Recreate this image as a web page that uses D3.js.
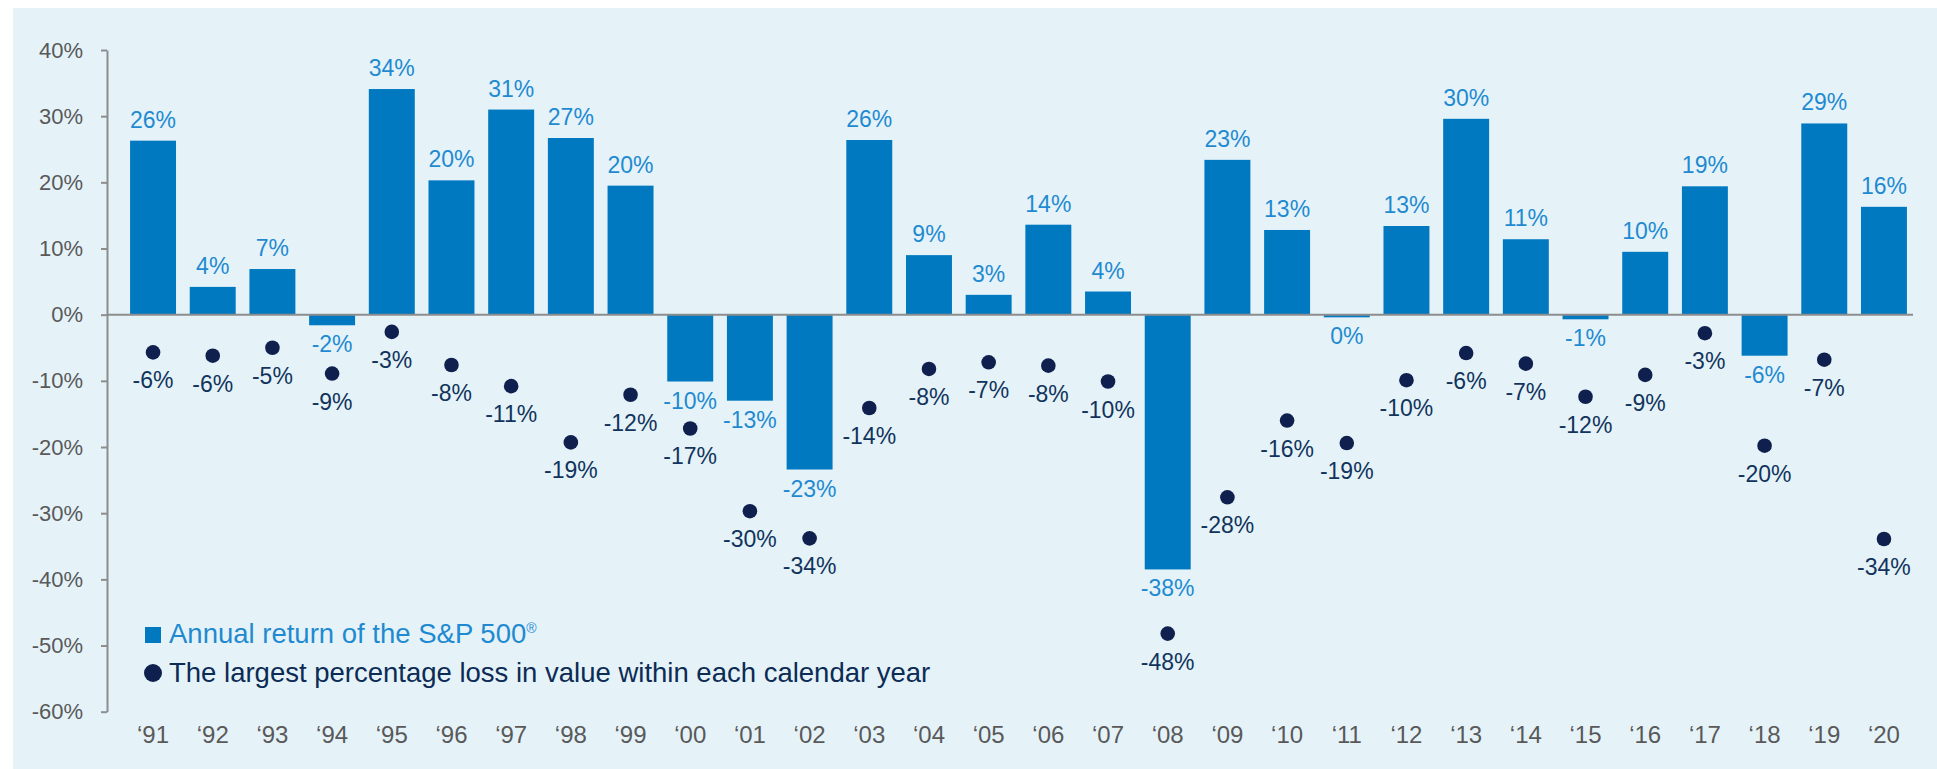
<!DOCTYPE html>
<html>
<head>
<meta charset="utf-8">
<script src="https://cdn.jsdelivr.net/npm/d3@7"></script>
<style>
  html, body { margin: 0; padding: 0; background: #ffffff; }
  svg { display: block; font-family: "Liberation Sans", Arial, sans-serif; }
</style>
</head>
<body>
<svg id="chart" width="1937" height="769"></svg>
<script>
// Calendar years shown on the x axis
const years = ["1991","1992","1993","1994","1995","1996","1997","1998","1999","2000",
               "2001","2002","2003","2004","2005","2006","2007","2008","2009","2010",
               "2011","2012","2013","2014","2015","2016","2017","2018","2019","2020"];
const yearLabels = years.map(y => "\u2018" + y.slice(2));

// Annual total return of the S&P 500 (%)
const annualReturn = [26.3, 4.2, 6.9, -1.6, 34.1, 20.3, 31.0, 26.7, 19.5, -10.1,
                      -13.0, -23.4, 26.4, 9.0, 3.0, 13.6, 3.5, -38.5, 23.4, 12.8,
                      -0.4, 13.4, 29.6, 11.4, -0.7, 9.5, 19.4, -6.2, 28.9, 16.3];

// Largest intra-year drawdown (%)
const intraYearDrop = [-5.7, -6.2, -5.0, -8.9, -2.6, -7.6, -10.8, -19.3, -12.1, -17.2,
                       -29.7, -33.8, -14.1, -8.2, -7.2, -7.7, -10.1, -48.2, -27.6, -16.0,
                       -19.4, -9.9, -5.8, -7.4, -12.4, -9.1, -2.8, -19.8, -6.8, -33.9];

const yTicks = [40, 30, 20, 10, 0, -10, -20, -30, -40, -50, -60];

const legendLabels = ["Annual return of the S&P 500", "The largest percentage loss in value within each calendar year"];

const COLORS = {
  panel: "#e5f3f9",
  bar: "#0079c1",
  barLabel: "#1f8ad0",
  dot: "#10204e",
  dotLabel: "#12345c",
  axis: "#8d8d8d",
  tick: "#595959",
  legend2: "#0c2b55"
};

const pct = v => { const r = Math.round(v); return (r === 0 ? 0 : r) + "%"; };

const svg = d3.select("#chart");

// light panel behind the chart
svg.append("rect")
  .attr("x", 13).attr("y", 8)
  .attr("width", 1937 - 13).attr("height", 769 - 8)
  .attr("fill", COLORS.panel);

const y = d3.scaleLinear().domain([-60, 40]).range([711.7, 50]);
const x = d3.scaleBand().domain(years).range([123.2, 1913.8])
  .paddingInner(0.23).paddingOuter(0.115);

const axisX = 107;

// y axis
const yAxis = svg.append("g")
  .attr("transform", `translate(${axisX},0)`)
  .call(d3.axisLeft(y).tickValues(yTicks).tickFormat(d => d + "%")
    .tickSize(6).tickSizeOuter(0).tickPadding(18));
yAxis.select(".domain").attr("stroke", COLORS.axis).attr("stroke-width", 2);
yAxis.selectAll(".tick line").attr("stroke", COLORS.axis).attr("stroke-width", 2);
yAxis.selectAll(".tick text")
  .attr("fill", COLORS.tick)
  .style("font-size", "22px")
  .style("font-family", "'Liberation Sans', Arial, sans-serif");

// bars
const data = years.map((yr, i) => ({ yr, label: yearLabels[i], ret: annualReturn[i], drop: intraYearDrop[i] }));

svg.append("g").selectAll("rect")
  .data(data).join("rect")
  .attr("x", d => x(d.yr))
  .attr("width", x.bandwidth())
  .attr("y", d => y(Math.max(0, d.ret)))
  .attr("height", d => Math.abs(y(d.ret) - y(0)))
  .attr("fill", COLORS.bar);

// zero line
svg.append("line")
  .attr("x1", axisX).attr("x2", 1913)
  .attr("y1", y(0)).attr("y2", y(0))
  .attr("stroke", COLORS.axis).attr("stroke-width", 2);

// bar value labels
svg.append("g").selectAll("text")
  .data(data).join("text")
  .attr("x", d => x(d.yr) + x.bandwidth() / 2)
  .attr("y", d => d.ret >= 0 ? y(d.ret) - 13 : y(d.ret) + 27)
  .attr("text-anchor", "middle")
  .attr("fill", COLORS.barLabel)
  .style("font-size", "23px")
  .text(d => pct(d.ret));

// drawdown dots
svg.append("g").selectAll("circle")
  .data(data).join("circle")
  .attr("cx", d => x(d.yr) + x.bandwidth() / 2)
  .attr("cy", d => y(d.drop))
  .attr("r", 7.3)
  .attr("fill", COLORS.dot);

svg.append("g").selectAll("text")
  .data(data).join("text")
  .attr("x", d => x(d.yr) + x.bandwidth() / 2)
  .attr("y", d => y(d.drop) + 36)
  .attr("text-anchor", "middle")
  .attr("fill", COLORS.dotLabel)
  .style("font-size", "23px")
  .text(d => pct(d.drop));

// x axis labels
svg.append("g").selectAll("text")
  .data(data).join("text")
  .attr("x", d => x(d.yr) + x.bandwidth() / 2)
  .attr("y", 743)
  .attr("text-anchor", "middle")
  .attr("fill", COLORS.tick)
  .style("font-size", "24px")
  .text(d => d.label);

// legend
const legend = svg.append("g");
legend.append("rect")
  .attr("x", 145).attr("y", 627).attr("width", 16).attr("height", 16)
  .attr("fill", COLORS.bar);
const l1 = legend.append("text")
  .attr("x", 169).attr("y", 643)
  .attr("fill", COLORS.barLabel)
  .style("font-size", "27.5px")
  .text(legendLabels[0]);
l1.append("tspan")
  .attr("dy", -10)
  .style("font-size", "14px")
  .text("\u00AE");

legend.append("circle")
  .attr("cx", 153).attr("cy", 673).attr("r", 9)
  .attr("fill", COLORS.dot);
legend.append("text")
  .attr("x", 169).attr("y", 682)
  .attr("fill", COLORS.legend2)
  .style("font-size", "27.5px")
  .text(legendLabels[1]);
</script>
</body>
</html>
